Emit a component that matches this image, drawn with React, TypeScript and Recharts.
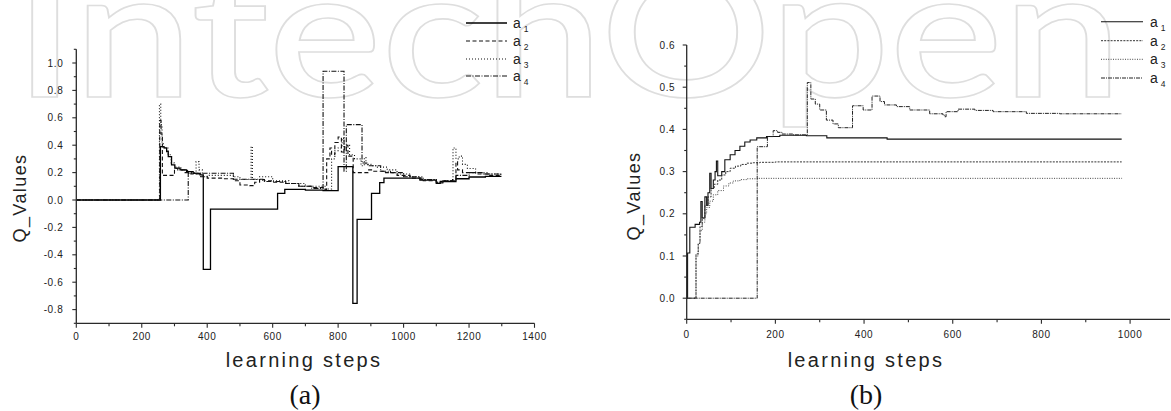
import { LineChart, Line, XAxis, YAxis } from 'recharts';

// ---- chart (a): Q values over 1300 learning steps, [step, Q] pairs (step functions)
const a1Left: [number, number][] = [
  [0, 0], [257, 0.39], [268, 0.38], [276, 0.354], [281, 0.317], [291, 0.256], [301, 0.232],
  [317, 0.22], [337, 0.207], [357, 0.195], [378, 0.183], [388, -0.507], [410, -0.066],
  [615, 0.049], [637, 0.078], [700, 0.072], [754, 0.068], [800, 0.244], [845, -0.755],
  [858, -0.141], [902, 0.049], [927, 0.127], [940, 0.159], [1000, 0.16], [1050, 0.145],
  [1100, 0.122], [1112, 0.135], [1160, 0.155], [1200, 0.168], [1250, 0.172], [1297, 0.168],
];
const a2Left: [number, number][] = [
  [0, 0], [255, 0.58], [259, 0.48], [263, 0.18], [300, 0.23], [310, 0.22], [330, 0.2],
  [350, 0.19], [380, 0.17], [400, 0.16], [450, 0.155], [480, 0.14], [500, 0.11], [530, 0.105],
  [545, 0.13], [560, 0.15], [575, 0.14], [600, 0.13], [640, 0.12], [680, 0.1], [720, 0.09],
  [760, 0.075], [765, 0.3], [775, 0.38], [780, 0.33], [790, 0.42], [800, 0.46], [810, 0.35],
  [820, 0.4], [830, 0.32], [846, 0.2], [891, 0.22], [905, 0.21], [940, 0.2], [980, 0.18],
  [1020, 0.16], [1060, 0.14], [1100, 0.125], [1120, 0.14], [1150, 0.15], [1160, 0.28],
  [1165, 0.22], [1180, 0.2], [1220, 0.19], [1260, 0.18], [1297, 0.17],
];
const a3Left: [number, number][] = [
  [0, 0], [254, 0.7], [258, 0.55], [262, 0.42], [266, 0.38], [280, 0.33], [290, 0.27],
  [300, 0.24], [320, 0.22], [340, 0.2], [360, 0.19], [366, 0.28], [375, 0.22], [385, 0.17],
  [400, 0.18], [480, 0.17], [500, 0.15], [530, 0.15], [534, 0.39], [538, 0.15], [560, 0.17],
  [600, 0.14], [650, 0.12], [700, 0.1], [760, 0.08], [780, 0.3], [790, 0.36], [800, 0.38],
  [812, 0.45], [818, 0.36], [825, 0.4], [835, 0.33], [850, 0.3], [870, 0.25], [880, 0.31],
  [885, 0.26], [900, 0.25], [920, 0.24], [950, 0.22], [980, 0.19], [1020, 0.17], [1060, 0.15],
  [1100, 0.13], [1120, 0.14], [1148, 0.15], [1151, 0.38], [1160, 0.3], [1170, 0.32],
  [1180, 0.26], [1195, 0.23], [1220, 0.2], [1260, 0.19], [1297, 0.18],
];
const a4Left: [number, number][] = [
  [0, 0], [342, 0.195], [480, 0.152], [570, 0.135], [640, 0.12], [680, 0.1], [720, 0.085],
  [754, 0.94], [818, 0.21], [825, 0.55], [873, 0.27], [890, 0.25], [930, 0.21], [960, 0.2],
  [1000, 0.17], [1050, 0.15], [1100, 0.13], [1120, 0.14], [1160, 0.18], [1200, 0.2],
  [1240, 0.19], [1297, 0.18],
];

// ---- chart (b): Q values over ~1000 learning steps
const a1Right: [number, number][] = [
  [0, 0], [2, 0.107], [7, 0.168], [19, 0.175], [29, 0.18], [32, 0.229], [35, 0.19], [41, 0.24],
  [45, 0.22], [48, 0.25], [52, 0.296], [55, 0.26], [60, 0.28], [64, 0.3], [67, 0.325],
  [70, 0.29], [79, 0.3], [86, 0.328], [98, 0.34], [109, 0.35], [120, 0.36], [131, 0.37],
  [143, 0.375], [158, 0.38], [180, 0.383], [210, 0.386], [270, 0.385], [316, 0.38],
  [452, 0.377], [981, 0.377],
];
const a2Right: [number, number][] = [
  [0, 0], [21, 0.105], [26, 0.13], [30, 0.17], [35, 0.19], [41, 0.22], [48, 0.24], [55, 0.26],
  [62, 0.27], [70, 0.28], [79, 0.292], [88, 0.3], [98, 0.308], [110, 0.313], [122, 0.317],
  [135, 0.32], [150, 0.321], [165, 0.322], [200, 0.323], [981, 0.323],
];
const a3Right: [number, number][] = [
  [0, 0], [21, 0.1], [26, 0.13], [30, 0.16], [35, 0.18], [41, 0.2], [45, 0.215], [52, 0.23],
  [60, 0.245], [70, 0.255], [83, 0.266], [95, 0.273], [105, 0.278], [120, 0.281],
  [135, 0.283], [160, 0.284], [981, 0.285],
];
const a4Right: [number, number][] = [
  [0, 0], [159, 0.359], [182, 0.383], [195, 0.397], [205, 0.393], [215, 0.389], [240, 0.387],
  [272, 0.511], [280, 0.472], [290, 0.46], [300, 0.446], [315, 0.422], [330, 0.413],
  [342, 0.404], [374, 0.456], [398, 0.446], [418, 0.479], [436, 0.466], [446, 0.458],
  [473, 0.454], [503, 0.446], [548, 0.437], [578, 0.434], [582, 0.43], [585, 0.442],
  [612, 0.448], [650, 0.445], [691, 0.442], [766, 0.438], [841, 0.437], [981, 0.437],
];

// ticks (every minor position; labelled ones are picked in the tick renderer)
const xTicksLeft = [0, 100, 200, 300, 400, 500, 600, 700, 800, 900, 1000, 1100, 1200, 1300, 1400];
const yTicksLeft = [-0.9, -0.8, -0.7, -0.6, -0.5, -0.4, -0.3, -0.2, -0.1, 0, 0.1, 0.2, 0.3, 0.4, 0.5, 0.6, 0.7, 0.8, 0.9, 1.0, 1.1];
const xTicksRight = [0, 100, 200, 300, 400, 500, 600, 700, 800, 900, 1000];
const yTicksRight = [-0.05, 0, 0.05, 0.1, 0.15, 0.2, 0.25, 0.3, 0.35, 0.4, 0.45, 0.5, 0.55, 0.6];

const seriesNames = ['1', '2', '3', '4'];

const toPoints = (pairs: [number, number][]) => pairs.map(([x, q]) => ({ x, q }));

const AXIS = '#2a2a2a';
const TXT = '#222';
const SANS = '"Liberation Sans", Arial, sans-serif';

// styles for the two panels
const leftStyles = [
  { stroke: '#000', dash: undefined, width: 1.3 },
  { stroke: '#111', dash: '4 2.5', width: 1.1 },
  { stroke: '#111', dash: '1 2', width: 1.1 },
  { stroke: '#111', dash: '5 1.5 1 1.5', width: 1.1 },
];
const rightStyles = [
  { stroke: '#111', dash: undefined, width: 1.1 },
  { stroke: '#333', dash: '2 1.2', width: 1 },
  { stroke: '#444', dash: '1 1.4', width: 1 },
  { stroke: '#222', dash: '4 1 1 1', width: 1 },
];

const fmt = (v: number) => v.toFixed(1);

function makeXTick(major: (v: number) => boolean, labelGap: number) {
  return (props: any) => {
    const { x, y, payload } = props;
    const isMajor = major(payload.value);
    return (
      <g>
        <line x1={x} x2={x} y1={y} y2={y + (isMajor ? 4.5 : 3)} stroke={AXIS} strokeWidth={1.1} />
        {isMajor && (
          <text x={x} y={y + labelGap} textAnchor="middle" fontSize={10} fill={TXT}
            fontFamily={SANS} letterSpacing={0.6}>
            {payload.value}
          </text>
        )}
      </g>
    );
  };
}

function makeYTick(major: (v: number) => boolean, labelGap: number, hide: (v: number) => boolean) {
  return (props: any) => {
    const { x, y, payload } = props;
    const isMajor = major(payload.value);
    return (
      <g>
        <line x1={x} x2={x - (isMajor ? 4 : 2.5)} y1={y} y2={y} stroke={AXIS} strokeWidth={1.1} />
        {isMajor && !hide(payload.value) && (
          <text x={x - labelGap} y={y + 3.6} textAnchor="end" fontSize={10} fill={TXT}
            fontFamily={SANS} letterSpacing={0.6}>
            {fmt(payload.value)}
          </text>
        )}
      </g>
    );
  };
}

const xTickLeft = makeXTick((v) => v % 200 === 0, 17);
const yTickLeft = makeYTick((v) => Math.round(v * 10) % 2 === 0, 13, (v) => Math.abs(v) > 1.05);
const xTickRight = makeXTick((v) => v % 200 === 0, 18.5);
const yTickRight = makeYTick((v) => Math.round(v * 100) % 10 === 0, 11.5, (v) => v < 0);

const leftData = [a1Left, a2Left, a3Left, a4Left];
const rightData = [a1Right, a2Right, a3Right, a4Right];

function LegendRows({ x1, x2, xa, rows, styles }: any) {
  return (
    <g>
      {seriesNames.map((n, i) => (
        <g key={n}>
          <line x1={x1} x2={x2} y1={rows[i]} y2={rows[i]} stroke={styles[i].stroke}
            strokeWidth={styles[i].width} strokeDasharray={styles[i].dash} />
          <text x={xa} y={rows[i] + 5} fontSize={14} fontFamily={SANS} fill={TXT}>
            a
            <tspan dx={3} dy={4} fontSize={8.5}>{n}</tspan>
          </text>
        </g>
      ))}
    </g>
  );
}

export default function App() {
  return (
    <div style={{ position: 'absolute', left: 0, top: 0, width: 1171, height: 411, background: '#fff', overflow: 'hidden' }}>
      {/* faint publisher watermark behind the plots */}
      <svg width={1171} height={411} style={{ position: 'absolute', left: 0, top: 0 }}>
        <text x={14} y={97} fontSize={180} fontWeight={600} fontFamily="Lato, sans-serif" textLength={1108}
          lengthAdjust="spacingAndGlyphs" fill="none" stroke="#dedede" strokeWidth={1.6}>
          IntechOpen
        </text>
      </svg>

      <div style={{ position: 'absolute', left: 0, top: 0 }}>
        <LineChart width={560} height={411} margin={{ top: 49.3, right: 25.5, bottom: 57.7, left: 26.3 }}>
          <XAxis dataKey="x" type="number" domain={[0, 1400]} ticks={xTicksLeft} interval={0}
            height={30} tickSize={0} tickMargin={0} tickLine={false} tick={xTickLeft}
            axisLine={{ stroke: AXIS, strokeWidth: 1.3 }} allowDataOverflow />
          <YAxis type="number" domain={[-0.9, 1.1]} ticks={yTicksLeft} interval={0} width={50}
            tickSize={0} tickMargin={0} tickLine={false} tick={yTickLeft}
            axisLine={{ stroke: AXIS, strokeWidth: 1.3 }} allowDataOverflow />
          {leftData.map((d, i) => (
            <Line key={i} data={toPoints(d)} dataKey="q" name={'a' + seriesNames[i]} type="stepAfter"
              stroke={leftStyles[i].stroke} strokeWidth={leftStyles[i].width}
              strokeDasharray={leftStyles[i].dash} dot={false} activeDot={false}
              isAnimationActive={false} />
          ))}
        </LineChart>
      </div>

      <div style={{ position: 'absolute', left: 580, top: 0 }}>
        <LineChart width={591} height={411} margin={{ top: 45, right: 1, bottom: 61.7, left: 56.7 }}>
          <XAxis dataKey="x" type="number" domain={[0, 1090]} ticks={xTicksRight} interval={0}
            height={30} tickSize={0} tickMargin={0} tickLine={false} tick={xTickRight}
            axisLine={{ stroke: AXIS, strokeWidth: 1.3 }} allowDataOverflow />
          <YAxis type="number" domain={[-0.05, 0.6]} ticks={yTicksRight} interval={0} width={50}
            tickSize={0} tickMargin={0} tickLine={false} tick={yTickRight}
            axisLine={{ stroke: AXIS, strokeWidth: 1.3 }} allowDataOverflow />
          {rightData.map((d, i) => (
            <Line key={i} data={toPoints(d)} dataKey="q" name={'a' + seriesNames[i]} type="stepAfter"
              stroke={rightStyles[i].stroke} strokeWidth={rightStyles[i].width}
              strokeDasharray={rightStyles[i].dash} dot={false} activeDot={false}
              isAnimationActive={false} />
          ))}
        </LineChart>
      </div>

      {/* titles, legends and panel captions */}
      <svg width={1171} height={411} style={{ position: 'absolute', left: 0, top: 0, pointerEvents: 'none' }}>
        <text transform="translate(26,198) rotate(-90)" textAnchor="middle" fontSize={18}
          fontFamily={SANS} letterSpacing={1.4} fill={TXT}>Q_Values</text>
        <text transform="translate(640,196) rotate(-90)" textAnchor="middle" fontSize={18}
          fontFamily={SANS} letterSpacing={1.4} fill={TXT}>Q_Values</text>
        <text x={304} y={367} textAnchor="middle" fontSize={20} fontFamily={SANS}
          letterSpacing={2.3} fill={TXT}>learning steps</text>
        <text x={866} y={367} textAnchor="middle" fontSize={20} fontFamily={SANS}
          letterSpacing={2.3} fill={TXT}>learning steps</text>
        <text x={305} y={404} textAnchor="middle" fontSize={28}
          fontFamily='"Liberation Serif", serif' fill="#111">(a)</text>
        <text x={866} y={404} textAnchor="middle" fontSize={28}
          fontFamily='"Liberation Serif", serif' fill="#111">(b)</text>
        <LegendRows x1={466} x2={507} xa={513} rows={[23, 41, 59, 76]} styles={leftStyles} />
        <LegendRows x1={1101} x2={1143} xa={1150} rows={[21.7, 40.7, 59.3, 78]} styles={rightStyles} />
      </svg>
    </div>
  );
}
